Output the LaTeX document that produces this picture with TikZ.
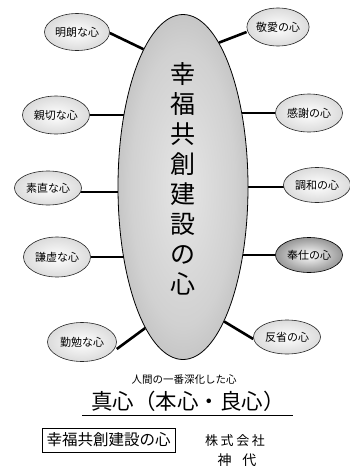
\documentclass[tikz,border=0pt]{standalone}
\usepackage{fontspec}
\newfontfamily\jp{Noto Sans CJK JP}
\usetikzlibrary{shapes.geometric,backgrounds}
\pgfdeclareradialshading{bigsh}{\pgfpoint{0bp}{0bp}}{color(0bp)=(black!10); color(20bp)=(black!18); color(40bp)=(black!35); color(50bp)=(black!60)}
\pgfdeclareradialshading{bubsh}{\pgfpoint{0bp}{0bp}}{color(0bp)=(white); color(25bp)=(black!14); color(50bp)=(black!45)}
\pgfdeclareradialshading{darksh}{\pgfpoint{0bp}{0bp}}{color(0bp)=(white); color(18bp)=(black!30); color(50bp)=(black!80)}
\tikzset{
  bub/.style={ellipse, draw=black!85, line width=0.6pt, shade, shading=bubsh,
    minimum width=67pt, minimum height=38pt, inner sep=0pt,
    font=\jp\fontsize{11}{11}\selectfont},
  darkbub/.style={bub, shading=darksh, draw=black},
  conn/.style={line width=2.6pt, black},
  bigell/.style={ellipse, draw=black, line width=0.8pt, shade, shading=bigsh,
    minimum width=130pt, minimum height=345pt, inner sep=0pt},
  txt/.style={inner sep=0pt, font=\jp},
}
\begin{document}
\begin{tikzpicture}[x=1pt,y=-1pt]
\path[use as bounding box] (0,0) rectangle (350,466);
% central ellipse
\node[bigell] (c) at (183,187) {};
\node[txt, align=center, font=\jp\fontsize{25}{30}\selectfont] (title) at (183,179)
  {幸\\福\\共\\創\\建\\設\\の\\心};
% surrounding bubbles
\node[bub, minimum width=65pt, minimum height=37pt] (meiro) at (77,32) {明朗な心};
\node[bub, minimum width=60pt, minimum height=38pt] (keiai) at (278,27) {敬愛の心};
\node[bub] (shinsetsu) at (56,115) {親切な心};
\node[bub] (kansha) at (309,113) {感謝の心};
\node[bub, minimum height=34pt] (sunao) at (48,188) {素直な心};
\node[bub, minimum height=35pt] (chowa) at (317,185) {調和の心};
\node[bub, minimum height=40pt] (kenkyo) at (57,257) {謙虚な心};
\node[darkbub, minimum height=35pt] (hoshi) at (309,255) {奉仕の心};
\node[bub, minimum width=69pt, minimum height=39pt] (kinben) at (82,342) {勤勉な心};
\node[bub, minimum height=34pt] (hansei) at (287,337) {反省の心};
% connectors
\begin{scope}[on background layer]
\draw[conn] ([yshift=-1pt]meiro.east) -- (c.106);
\draw[conn] ([yshift=-5pt]keiai.west) -- (c.76);
\draw[conn] (shinsetsu) -- (shinsetsu -| c);
\draw[conn] (kansha) -- (kansha -| c);
\draw[conn] ([yshift=-4pt]sunao.center) -- ([yshift=-4pt]sunao -| c);
\draw[conn] ([yshift=-2pt]chowa.center) -- ([yshift=-2pt]chowa -| c);
\draw[conn] (kenkyo) -- (kenkyo -| c);
\draw[conn] (hoshi) -- (hoshi -| c);
\draw[conn] ([yshift=-7pt]kinben.east) -- (c.255);
\draw[conn] ([yshift=-2pt]hansei.west) -- (c.287);
\end{scope}
% bottom texts
\node[txt, font=\jp\fontsize{10.5}{10.5}\selectfont] (sub) at (184,380) {人間の一番深化した心};
\node[txt, font=\jp\fontsize{21.5}{21.5}\selectfont] (magokoro) at (188,401) {真心（本心・良心）};
\coordinate (ulA) at (82,415);
\coordinate (ulB) at (293,415);
\draw[line width=0.9pt] (ulA) -- (ulB);
\node[draw, line width=0.6pt, minimum width=133pt, minimum height=24pt, inner sep=0pt,
  font=\jp\fontsize{15.5}{15.5}\selectfont] (box) at (108.5,440) {幸福共創建設の心};
\node[txt, font=\jp\fontsize{13}{13}\selectfont\addfontfeature{LetterSpace=20}] (kabu) at (235,441) {株式会社};
\node[txt, font=\jp\fontsize{14}{14}\selectfont] (kojiro) at (237,460) {神\hspace{11pt}代};
\end{tikzpicture}
\end{document}
